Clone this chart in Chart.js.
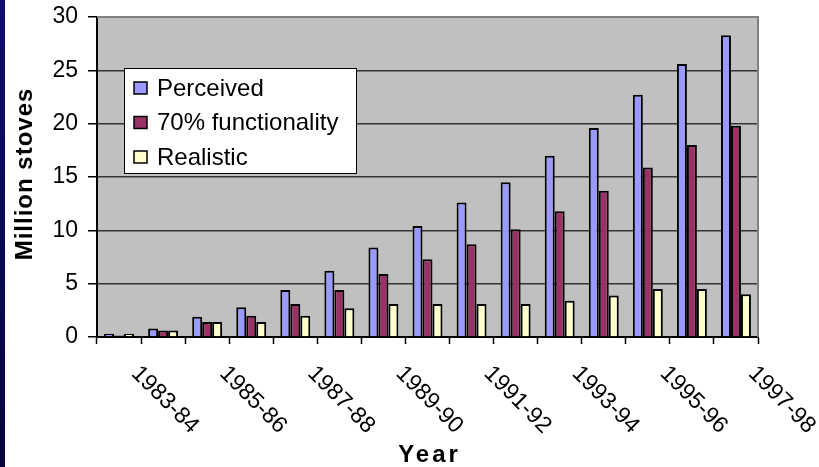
<!DOCTYPE html>
<html>
<head>
<meta charset="utf-8">
<title>Million stoves</title>
<script src="https://cdn.jsdelivr.net/npm/chart.js@4.4.1/dist/chart.umd.min.js"></script>
<style>
  html, body { margin: 0; padding: 0; background: #fff; }
  #wrap { position: relative; width: 819px; height: 467px; overflow: hidden; }
  #wrap::before {
    content: ''; position: absolute; left: 0; top: 0; bottom: 0; width: 5px;
    background: linear-gradient(#0e0e6e, #06063c);
  }
</style>
</head>
<body>
<div id="wrap"><canvas id="stoves" width="819" height="467"></canvas></div>
<script>
// 年份（每隔一年标注）
const years = ['1983-84', '1984-85', '1985-86', '1986-87', '1987-88', '1988-89', '1989-90',
  '1990-91', '1991-92', '1992-93', '1993-94', '1994-95', '1995-96', '1996-97', '1997-98'];

// 各口径的累计炉灶数（百万台）
const perceived    = [0.3, 0.8, 1.9, 2.8, 4.4, 6.2, 8.4, 10.4, 12.6, 14.5, 17.0, 19.6, 22.7, 25.6, 28.3];
const functional70 = [0.15, 0.6, 1.4, 2.0, 3.1, 4.4, 5.9, 7.3, 8.7, 10.1, 11.8, 13.7, 15.9, 18.0, 19.8];
const realistic    = [0.3, 0.6, 1.4, 1.4, 2.0, 2.7, 3.1, 3.1, 3.1, 3.1, 3.4, 3.9, 4.5, 4.5, 4.0];

const seriesNames = ['Perceived', '70% functionality', 'Realistic'];
const yMax = 30;
const yStep = 5;

const FONT = '"Liberation Sans", Arial, sans-serif';

// 灰色绘图区 + 顶部/右侧边框
const plotBackground = {
    id: 'plotBackground',
    beforeDraw(chart) {
        const { ctx, chartArea: a } = chart;
        ctx.save();
        ctx.fillStyle = '#c0c0c0';
        ctx.fillRect(a.left, a.top, a.right - a.left, a.bottom - a.top);
        ctx.restore();
    },
    beforeDatasetsDraw(chart) {
        const { ctx, chartArea: a } = chart;
        ctx.save();
        ctx.strokeStyle = '#808080';
        ctx.lineWidth = 2;
        ctx.beginPath();
        ctx.moveTo(a.left, a.top);
        ctx.lineTo(a.right, a.top);
        ctx.lineTo(a.right, a.bottom);
        ctx.stroke();
        ctx.restore();
    }
};

// 斜排的年份标签和坐标轴标题
const axisText = {
    id: 'axisText',
    afterDraw(chart) {
        const { ctx, chartArea: a } = chart;
        const x = chart.scales.x;
        ctx.save();
        ctx.fillStyle = '#000';
        ctx.font = '23px ' + FONT;
        ctx.textAlign = 'left';
        ctx.textBaseline = 'middle';
        years.forEach((label, i) => {
            if (i % 2) return;
            const px = x.getPixelForValue(i);
            ctx.save();
            ctx.translate(px + 16, a.bottom + 33);
            ctx.rotate(Math.PI / 4);
            ctx.fillText(label, 0, 0);
            ctx.restore();
        });

        ctx.font = 'bold 24px ' + FONT;
        ctx.textAlign = 'center';
        ctx.textBaseline = 'alphabetic';
        ctx.letterSpacing = '3px';
        ctx.fillText('Year', (a.left + a.right) / 2 + 2, 462);

        ctx.letterSpacing = '1px';
        ctx.translate(32, (a.top + a.bottom) / 2 - 3);
        ctx.rotate(-Math.PI / 2);
        ctx.fillText('Million stoves', 0, 0);
        ctx.restore();
    }
};

// 绘图区内带边框的图例
const boxLegend = {
    id: 'boxLegend',
    afterDraw(chart) {
        const { ctx } = chart;
        const bx = 124, by = 68, bw = 232, bh = 105;
        ctx.save();
        ctx.fillStyle = '#fff';
        ctx.fillRect(bx, by, bw, bh);
        ctx.strokeStyle = '#000';
        ctx.lineWidth = 1;
        ctx.strokeRect(bx + 0.5, by + 0.5, bw, bh);
        ctx.font = '24px ' + FONT;
        ctx.textBaseline = 'middle';
        chart.data.datasets.forEach((ds, i) => {
            const cy = by + 20 + i * 34.5;
            ctx.fillStyle = ds.backgroundColor;
            ctx.fillRect(bx + 10, cy - 6, 13, 12);
            ctx.lineWidth = 1.5;
            ctx.strokeRect(bx + 10, cy - 6, 13, 12);
            ctx.fillStyle = '#000';
            ctx.fillText(ds.label, bx + 33, cy + 1);
        });
        ctx.restore();
    }
};

const barStyle = { borderColor: '#000', borderWidth: 2, barPercentage: 1, categoryPercentage: 0.68 };

new Chart(document.getElementById('stoves'), {
    type: 'bar',
    data: {
        labels: years,
        datasets: [
            { label: seriesNames[0], data: perceived, backgroundColor: '#9999ff', ...barStyle },
            { label: seriesNames[1], data: functional70, backgroundColor: '#993366', ...barStyle },
            { label: seriesNames[2], data: realistic, backgroundColor: '#ffffcc', ...barStyle }
        ]
    },
    options: {
        responsive: false,
        animation: false,
        layout: { padding: { left: 5, right: 61, top: 17, bottom: 0 } },
        plugins: {
            legend: { display: false },
            tooltip: { enabled: false }
        },
        scales: {
            x: {
                grid: { drawOnChartArea: false, drawTicks: true, tickLength: 7, tickColor: '#000', tickWidth: 1.5 },
                border: { color: '#000', width: 2 },
                ticks: { display: false },
                afterFit(scale) { scale.height = 130; }
            },
            y: {
                min: 0,
                max: yMax,
                ticks: { stepSize: yStep, color: '#000', padding: 10, font: { family: FONT, size: 23 } },
                grid: { color: '#333', lineWidth: 1.5, tickLength: 9, tickColor: '#000', tickWidth: 1.5 },
                border: { color: '#000', width: 2 },
                afterFit(scale) {
                    scale.width = 92;
                    scale.paddingTop = 0;
                    scale.paddingBottom = 0;
                }
            }
        }
    },
    plugins: [plotBackground, axisText, boxLegend]
});
</script>
</body>
</html>
